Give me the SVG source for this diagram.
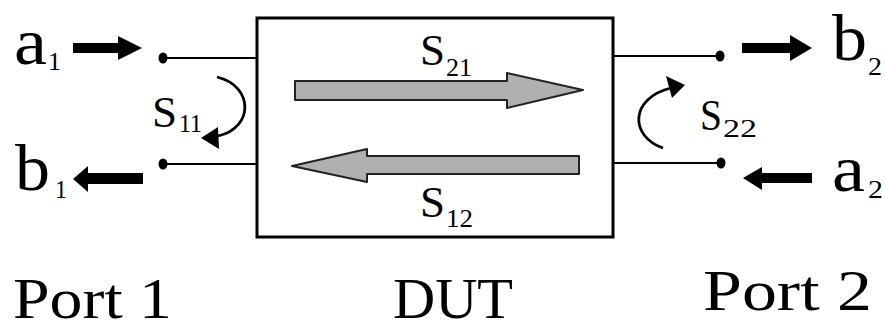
<svg xmlns="http://www.w3.org/2000/svg" width="885" height="322" viewBox="0 0 885 322">
<style>
text{font-family:'Liberation Serif','Times New Roman','Tinos','Nimbus Roman','FreeSerif','Noto Serif','DejaVu Serif',Georgia,serif;fill:#000}
.big{font-size:66px}
.sub{font-size:26px}
.s{font-size:45px}
.ssub{font-size:25px}
.lbl{font-size:56px}
.wire{stroke:#000;stroke-width:2;fill:none}
.blk{fill:#000}
.gray{fill:#b0b0b0;stroke:#222;stroke-width:2;stroke-linejoin:round}
.curve{stroke:#000;stroke-width:2.8;fill:none}
</style>
<rect width="885" height="322" fill="#fff"/>
<g id="dut">
<rect x="257" y="18" width="356" height="219" fill="#fff" stroke="#000" stroke-width="3"/>
<path class="gray" d="M295,81 H507 V73 L583,90 L507,108 V100 H295 Z"/>
<path class="gray" d="M579,156 H367 V149 L292,166 L367,182 V174 H579 Z"/>
<text class="s" x="420" y="65" textLength="25" lengthAdjust="spacingAndGlyphs">S</text>
<text class="ssub" x="446" y="76" textLength="26" lengthAdjust="spacingAndGlyphs">21</text>
<text class="s" x="420" y="217" textLength="25" lengthAdjust="spacingAndGlyphs">S</text>
<text class="ssub" x="446" y="227" textLength="27" lengthAdjust="spacingAndGlyphs">12</text>
<text class="lbl" x="393" y="318" textLength="120" lengthAdjust="spacingAndGlyphs">DUT</text>
</g>
<g id="port1">
<ellipse cx="163" cy="58" rx="4.5" ry="5.5" class="blk"/>
<ellipse cx="163" cy="164" rx="4.5" ry="5.5" class="blk"/>
<text class="big" x="14" y="64" textLength="33" lengthAdjust="spacingAndGlyphs">a</text>
<text class="sub" x="48" y="70" textLength="13" lengthAdjust="spacingAndGlyphs">1</text>
<text class="big" x="15" y="190" textLength="35" lengthAdjust="spacingAndGlyphs">b</text>
<text class="sub" x="55" y="198" textLength="12" lengthAdjust="spacingAndGlyphs">1</text>
<text class="s" x="152" y="127" textLength="25" lengthAdjust="spacingAndGlyphs">S</text>
<text class="ssub" x="179" y="132" textLength="23" lengthAdjust="spacingAndGlyphs">11</text>
<text class="lbl" x="13" y="318" textLength="159" lengthAdjust="spacingAndGlyphs">Port 1</text>
</g>
<g id="port2">
<ellipse cx="720" cy="56" rx="4.5" ry="5.5" class="blk"/>
<ellipse cx="721" cy="163" rx="4.5" ry="5.5" class="blk"/>
<text class="big" x="832" y="60" textLength="35" lengthAdjust="spacingAndGlyphs">b</text>
<text class="sub" x="868" y="75" textLength="14" lengthAdjust="spacingAndGlyphs">2</text>
<text class="big" x="832" y="191" textLength="33" lengthAdjust="spacingAndGlyphs">a</text>
<text class="sub" x="868" y="198" textLength="15" lengthAdjust="spacingAndGlyphs">2</text>
<text class="s" x="700" y="130" textLength="22" lengthAdjust="spacingAndGlyphs">S</text>
<text class="ssub" x="723" y="137" textLength="34" lengthAdjust="spacingAndGlyphs">22</text>
<text class="lbl" x="703" y="310" textLength="169" lengthAdjust="spacingAndGlyphs">Port 2</text>
</g>
<g id="connectors">
<line class="wire" x1="167" y1="58" x2="257" y2="58"/>
<line class="wire" x1="167" y1="164" x2="257" y2="164"/>
<line class="wire" x1="613" y1="56" x2="716" y2="56"/>
<line class="wire" x1="613" y1="163" x2="717" y2="163"/>
<path class="blk" d="M73,43 H118 V36 L142,48 L118,60 V53 H73 Z"/>
<path class="blk" d="M143,173 H88 V166 L73,179 L88,192 V184 H143 Z"/>
<path class="blk" d="M742,43 H790 V35 L812,48 L790,61 V53 H742 Z"/>
<path class="blk" d="M812,173 H762 V167 L743,178 L762,190 V183 H812 Z"/>
<path class="curve" d="M217,77 C254,86 254,128 218,136"/>
<path class="blk" d="M201,138 L218,127 L219,149 Z"/>
<path class="curve" d="M663,148 C629,136 630,98 671,88"/>
<path class="blk" d="M685,85 L666,76 L672,98 Z"/>
</g>
</svg>
